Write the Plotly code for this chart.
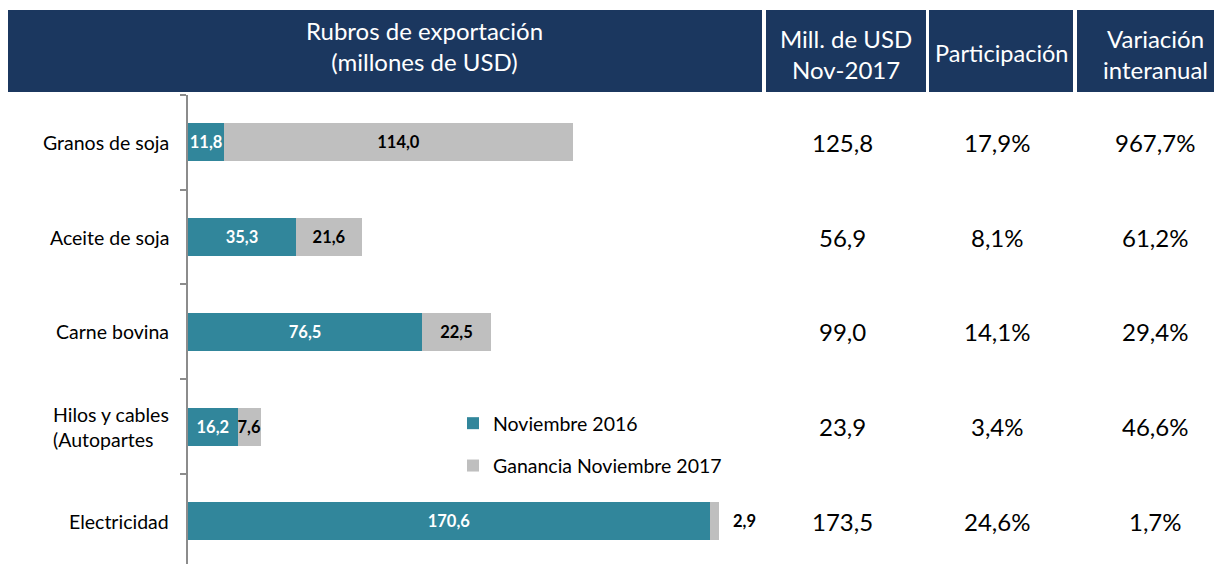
import plotly.graph_objects as go

# ---------------- data ----------------
categorias = ["Granos de soja", "Aceite de soja", "Carne bovina",
              "Hilos y cables (Autopartes", "Electricidad"]
etiquetas = ["Granos de soja", "Aceite de soja", "Carne bovina",
             "Hilos y cables<br>(Autopartes", "Electricidad"]
nov_2016 = [11.8, 35.3, 76.5, 16.2, 170.6]
ganancia_2017 = [114.0, 21.6, 22.5, 7.6, 2.9]
mill_usd_nov2017 = ["125,8", "56,9", "99,0", "23,9", "173,5"]
participacion = ["17,9%", "8,1%", "14,1%", "3,4%", "24,6%"]
variacion = ["967,7%", "61,2%", "29,4%", "46,6%", "1,7%"]
encabezados = ["Rubros de exportación<br>(millones de USD)",
               "Mill. de USD<br>Nov-2017", "Participación",
               "Variación<br>interanual"]
series = ["Noviembre 2016", "Ganancia Noviembre 2017"]

# ---------------- style ----------------
W, H = 1219, 564
TEAL = "#31869B"
GRAY = "#BFBFBF"
NAVY = "#1B375F"
FONT = "Lato, 'Open Sans', sans-serif"


def fmt(v):
    return f"{v:.1f}".replace(".", ",")


def px_x(p):
    return p / W


def px_y(p):
    return 1 - p / H


# the last gray label sits outside the bar, drawn as an annotation
gray_inside = [fmt(v) for v in ganancia_2017[:-1]] + [""]

fig = go.Figure()
fig.add_trace(go.Bar(
    y=categorias, x=nov_2016, orientation="h", name=series[0],
    marker=dict(color=TEAL, line=dict(width=0)),
    text=[fmt(v) for v in nov_2016], textposition="inside",
    insidetextanchor="middle", constraintext="none", textangle=0,
    textfont=dict(color="white", size=16.5, family=FONT, weight="bold"),
    legendgroup="a", hoverinfo="skip",
))
fig.add_trace(go.Bar(
    y=categorias, x=ganancia_2017, orientation="h", name=series[1],
    marker=dict(color=GRAY, line=dict(width=0)),
    text=gray_inside, textposition="inside",
    insidetextanchor="middle", constraintext="none", textangle=0,
    textfont=dict(color="black", size=16.5, family=FONT, weight="bold"),
    legendgroup="b", hoverinfo="skip",
))

x0_px, x1_px = 188, 760
scale = 3.06
fig.update_layout(
    width=W, height=H,
    margin=dict(l=0, r=0, t=0, b=0),
    paper_bgcolor="white", plot_bgcolor="white",
    barmode="stack", bargap=0.6,
    font=dict(family=FONT, color="black"),
    showlegend=True,
    legend=dict(x=px_x(453), y=px_y(404), xanchor="left", yanchor="top",
                font=dict(size=19.5, family=FONT), tracegroupgap=14,
                bgcolor="rgba(0,0,0,0)"),
    xaxis=dict(domain=[px_x(x0_px), px_x(x1_px)],
               range=[0, (x1_px - x0_px) / scale],
               showgrid=False, zeroline=False, showline=False,
               showticklabels=False, ticks=""),
    yaxis=dict(domain=[0, px_y(95)], range=[4.45, -0.5],
               type="category", showgrid=False, zeroline=False,
               showline=True, linecolor="#8C8C8C", linewidth=1.5,
               ticks="outside", tickson="boundaries", ticklen=6,
               tickcolor="#8C8C8C", tickwidth=1.5,
               showticklabels=False),
)

shapes = []
# header boxes
for (a, b) in [(8, 762), (766, 926), (929, 1073), (1077, 1214)]:
    shapes.append(dict(type="rect", xref="paper", yref="paper",
                       x0=px_x(a), x1=px_x(b), y0=px_y(92), y1=px_y(10),
                       fillcolor=NAVY, line=dict(width=0), layer="below"))
fig.update_layout(shapes=shapes)

ann = []
# header texts
head_pos = [(424, 46, 24), (846, 54, 24), (1001, 53, 23.5), (1155, 54, 24)]
for txt, (cx, cy, fs) in zip(encabezados, head_pos):
    ann.append(dict(xref="paper", yref="paper", x=px_x(cx), y=px_y(cy),
                    text=txt, showarrow=False, xanchor="center",
                    yanchor="middle", align="center",
                    font=dict(color="white", size=fs, family=FONT)))
# category labels
for cat, lab in zip(categorias, etiquetas):
    ann.append(dict(xref="paper", yref="y", x=px_x(171), y=cat, text=lab,
                    showarrow=False, xanchor="right", yanchor="middle",
                    align="left", font=dict(size=19.5, family=FONT)))
# outside label for the last gray segment
ann.append(dict(xref="x", yref="y", x=nov_2016[-1] + ganancia_2017[-1],
                y=categorias[-1], text=fmt(ganancia_2017[-1]),
                showarrow=False, xanchor="left", yanchor="middle", xshift=12,
                font=dict(size=16.5, family=FONT, color="black", weight="bold")))
# table columns
for col, cx in [(mill_usd_nov2017, 842), (participacion, 997), (variacion, 1155)]:
    for cat, val in zip(categorias, col):
        ann.append(dict(xref="paper", yref="y", x=px_x(cx), y=cat, text=val,
                        showarrow=False, xanchor="center", yanchor="middle",
                        font=dict(size=24, family=FONT)))
fig.update_layout(annotations=ann)

fig.write_html("out.html",
               config={"displayModeBar": False},
               post_script="document.body.style.margin='0';")
